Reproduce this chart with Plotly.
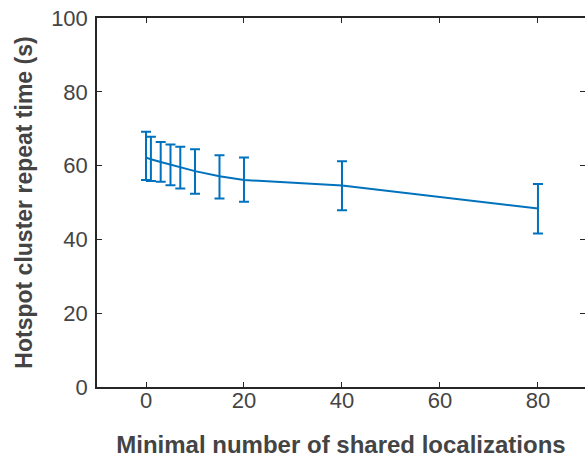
import plotly.graph_objects as go

x_vals = [0, 1, 3, 5, 7, 10, 15, 20, 40, 80]
y_mean = [62.2, 61.7, 61.0, 60.3, 59.5, 58.5, 57.1, 56.1, 54.6, 48.4]
y_upper = [69.2, 67.8, 66.4, 65.7, 65.1, 64.4, 62.8, 62.2, 61.2, 55.0]
y_lower = [56.1, 55.8, 55.6, 54.7, 53.8, 52.4, 51.1, 50.2, 47.9, 41.6]
x_ticks = [0, 20, 40, 60, 80]
y_ticks = [0, 20, 40, 60, 80, 100]

err_plus = [u - m for u, m in zip(y_upper, y_mean)]
err_minus = [m - l for m, l in zip(y_mean, y_lower)]

blue = "#0072BD"
axc = "#262626"
txt = "#444444"

fig = go.Figure()
fig.add_trace(go.Scatter(
    x=x_vals, y=y_mean, mode="lines",
    line=dict(color=blue, width=2),
    error_y=dict(type="data", symmetric=False, array=err_plus, arrayminus=err_minus,
                 color=blue, thickness=2, width=5),
    showlegend=False,
))
# invisible trace for right-hand inward ticks
fig.add_trace(go.Scatter(x=[None], y=[None], yaxis="y2", showlegend=False))

font = dict(family="Liberation Sans, Arial, sans-serif", color=txt)

fig.update_layout(
    width=585, height=461,
    margin=dict(l=97, r=0, t=18, b=74),
    paper_bgcolor="white", plot_bgcolor="white",
    font=font,
    xaxis=dict(
        range=[-10, 89.6], tickvals=x_ticks, ticks="inside", ticklen=5, tickcolor=axc,
        showline=True, linecolor=axc, linewidth=1.5, mirror="ticks", showgrid=False, zeroline=False,
        tickfont=dict(size=22, color=txt), automargin=False, ticklabelstandoff=-7,
        title=dict(text="<b>Minimal number of shared localizations</b>", font=dict(size=24, color=txt), standoff=24),
    ),
    yaxis=dict(
        range=[0, 100], tickvals=y_ticks, ticks="inside", ticklen=5, tickcolor=axc,
        showline=True, linecolor=axc, linewidth=1.5, showgrid=False, zeroline=False,
        tickfont=dict(size=22, color=txt), automargin=False, ticklabelstandoff=3,
        title=dict(text="<b>Hotspot cluster repeat time (s)</b>", font=dict(size=23, color=txt), standoff=12),
    ),
    yaxis2=dict(
        range=[0, 100], tickvals=y_ticks, ticks="inside", ticklen=5, tickcolor=axc,
        overlaying="y", side="right", showline=False, showgrid=False, zeroline=False,
        showticklabels=False, automargin=False,
    ),
)

fig.write_html("out.html", config={"displayModeBar": False},
               post_script="document.body.style.margin='0';")
